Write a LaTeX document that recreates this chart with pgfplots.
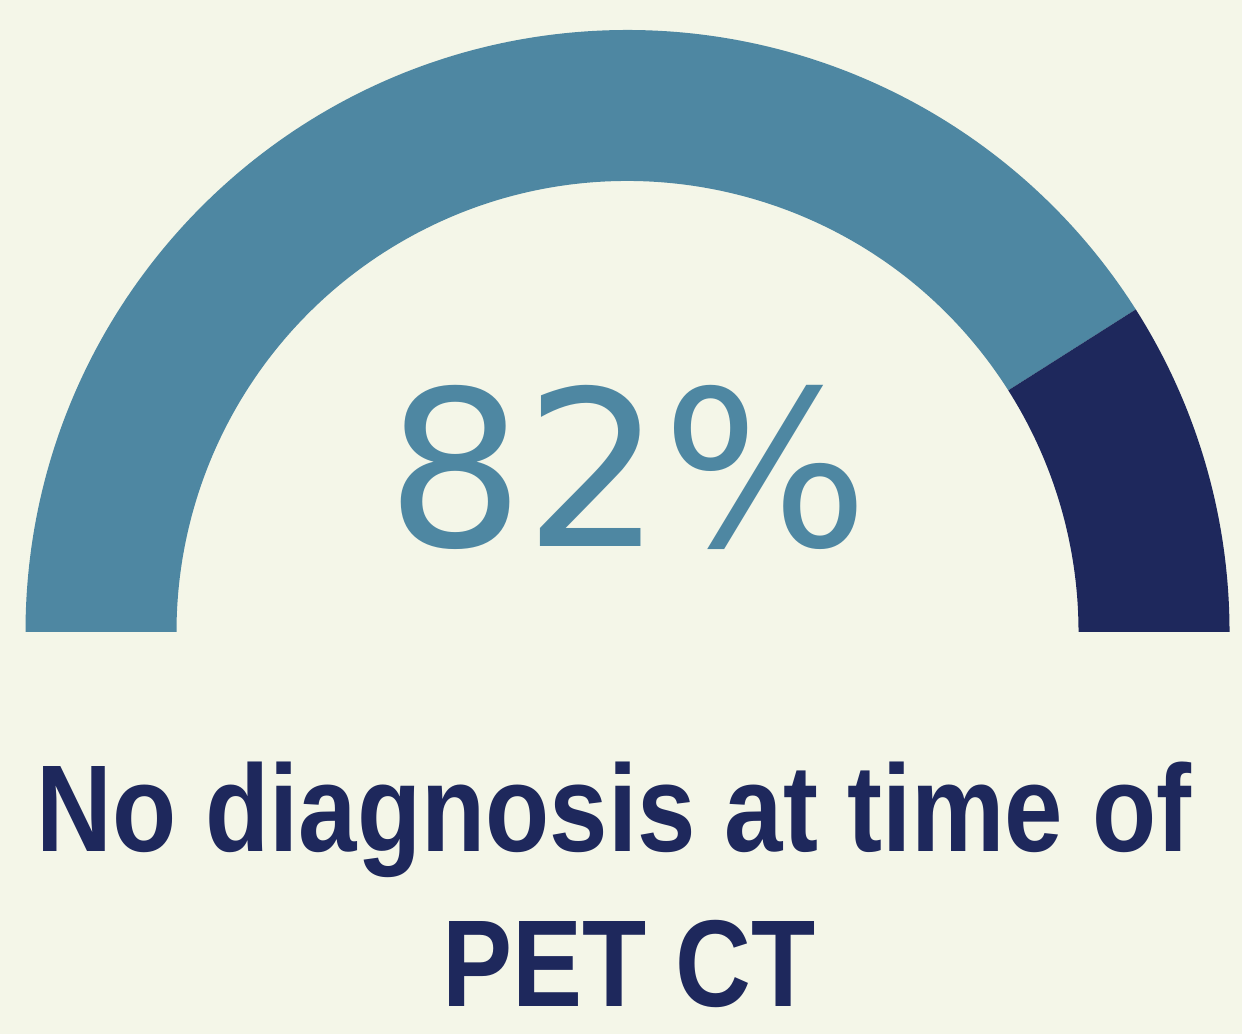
\documentclass[border=0pt]{standalone}
\usepackage{pgfplots}
\usepackage{pgfplotstable}
\pgfplotsset{compat=1.18}
\usepackage{fontspec}
\setmainfont{Liberation Sans}
\newfontfamily\numfont{DejaVu Sans}
\newfontfamily\capfont{Liberation Sans}[FakeStretch=0.85]

\definecolor{bg}{HTML}{F4F6E8}
\definecolor{gaugeblue}{HTML}{4E87A2}
\definecolor{gaugenavy}{HTML}{1E285C}

% share of patients, in percent
\pgfplotstableread{
segment value
nodiagnosis 82
diagnosis 18
}\gaugedata

\begin{document}
\begin{tikzpicture}[x=1bp,y=1bp]
\pgfplotstablegetelem{0}{value}\of\gaugedata
\pgfmathsetmacro\splitangle{180-1.8*\pgfplotsretval}
\fill[bg] (0,0) rectangle (1242,1034);
\begin{axis}[
    at={(0,0)}, anchor=south west,
    width=1242bp, height=1034bp, scale only axis,
    xmin=0, xmax=1242, ymin=0, ymax=1034,
    hide axis, clip=false,
  ]
  \coordinate (c) at (axis cs:627.5,402);
  % 82 % segment
  \fill[gaugeblue] ([shift={(180:602bp)}]c) arc[start angle=180, end angle=\splitangle, radius=602bp]
     -- ([shift={(\splitangle:451bp)}]c) arc[start angle=\splitangle, end angle=180, radius=451bp] -- cycle;
  % 18 % segment
  \fill[gaugenavy] ([shift={(\splitangle:602bp)}]c) arc[start angle=\splitangle, end angle=0, radius=602bp]
     -- ([shift={(0:451bp)}]c) arc[start angle=0, end angle=\splitangle, radius=451bp] -- cycle;

  \node[anchor=base, text=gaugeblue, inner sep=0pt, font=\numfont\fontsize{218}{218}\selectfont]
     at (axis cs:628,487) {82\%};
  \node[anchor=base, text=gaugenavy, inner sep=0pt, font=\capfont\bfseries\fontsize{124}{124}\selectfont]
     at (axis cs:614,182) {No diagnosis at time of};
  \node[anchor=base, text=gaugenavy, inner sep=0pt, font=\capfont\bfseries\fontsize{124}{124}\selectfont]
     at (axis cs:629,27) {PET CT};
\end{axis}
\end{tikzpicture}
\end{document}
